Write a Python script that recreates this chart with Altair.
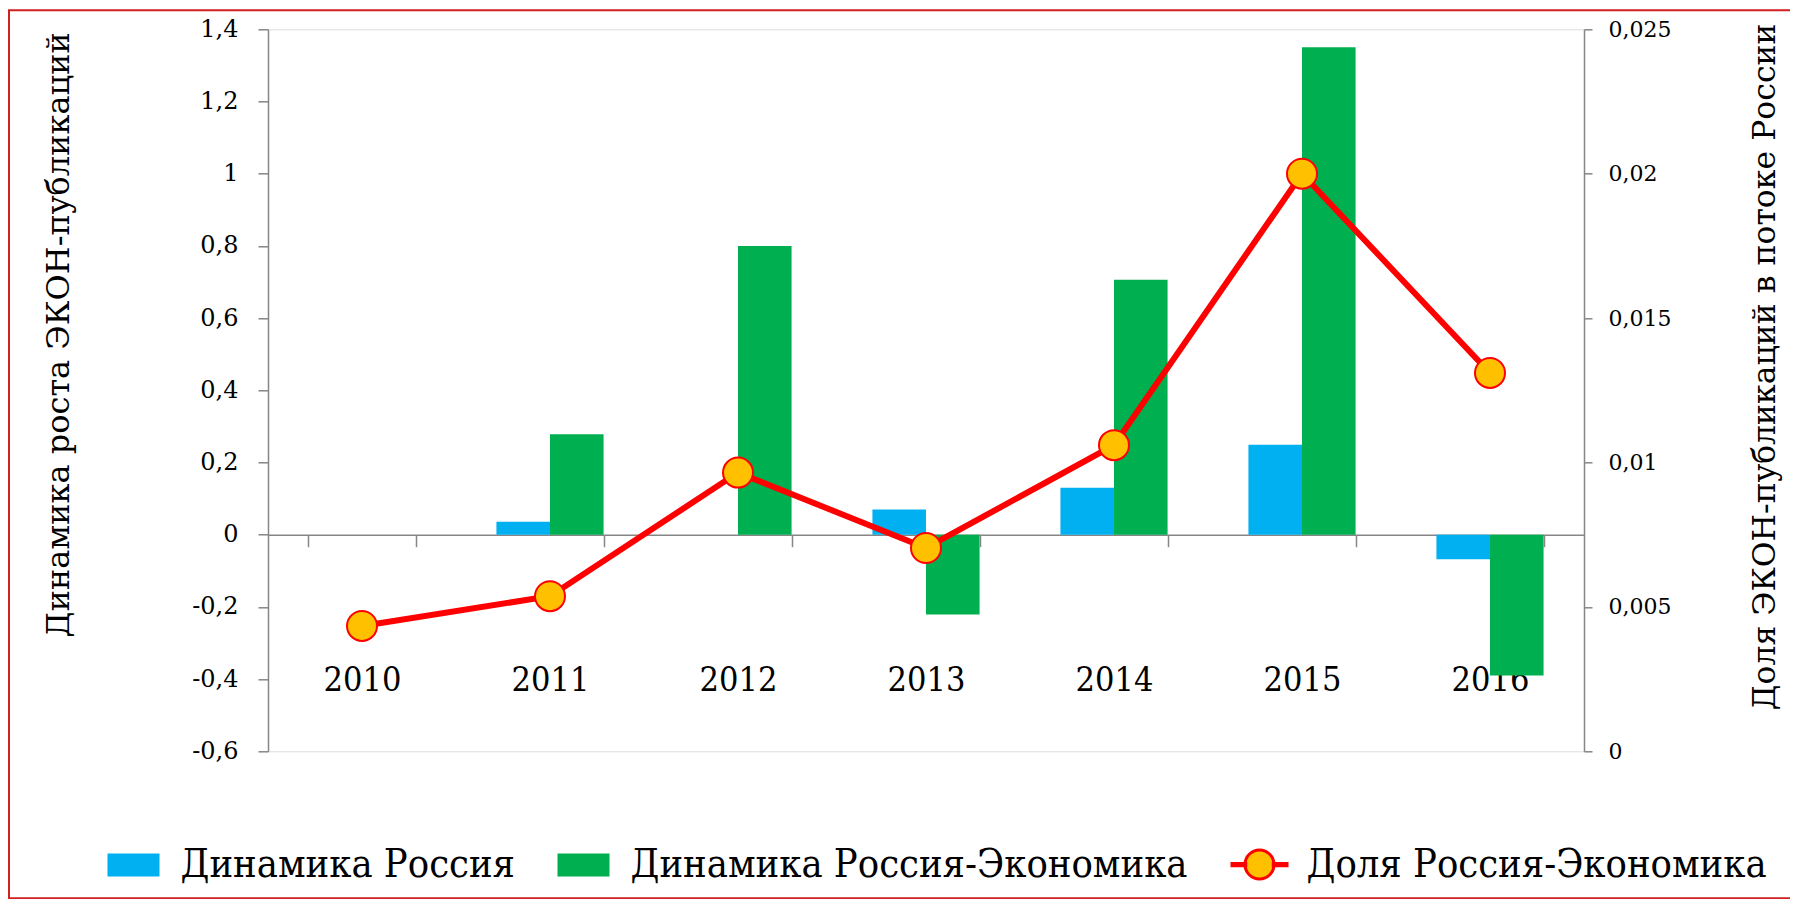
import altair as alt
import pandas as pd

# ---------------- data ----------------
years = ["2010", "2011", "2012", "2013", "2014", "2015", "2016"]
dyn_russia = [None, 0.036, 0.0, 0.070, 0.130, 0.249, -0.068]
dyn_russia_econ = [None, 0.278, 0.800, -0.221, 0.706, 1.350, -0.390]
share_russia_econ = [0.00434, 0.00537, 0.00965, 0.00704, 0.0106, 0.0200, 0.0131]

series_names = ["Динамика Россия", "Динамика Россия-Экономика", "Доля Россия-Экономика"]
left_ticks = [-0.6, -0.4, -0.2, 0, 0.2, 0.4, 0.6, 0.8, 1, 1.2, 1.4]
right_ticks = [0, 0.005, 0.01, 0.015, 0.02, 0.025]
left_title = "Динамика роста ЭКОН-публикаций"
right_title = "Доля ЭКОН-публикаций в потоке России"

# ---------------- styles ----------------
FONT_C = "DejaVu Serif Condensed, DejaVu Serif"
FONT_N = "DejaVu Serif"
BLUE, GREEN, GOLD, RED = "#00B0F0", "#00B050", "#FFC000", "#FF0000"
AXIS_GREY = "#868686"
W, H = 1316, 722

rows = []
for y, a, b in zip(years, dyn_russia, dyn_russia_econ):
    if a is not None:
        rows.append({"year": y, "series": series_names[0], "value": a})
    if b is not None:
        rows.append({"year": y, "series": series_names[1], "value": b})
bar_df = pd.DataFrame(rows)
line_df = pd.DataFrame({"year": years, "share": share_russia_econ})
legend_df = pd.DataFrame({"series": series_names, "year": [years[0]] * 3,
                          "share": [None, None, None]})

rect_path = "M-0.891,-0.364H0.891V0.364H-0.891Z"
line_path = ("M-1,-0.04H-0.5V0.04H-1Z M0.5,-0.04H1V0.04H0.5Z "
             "M0.527,0A0.527,0.527 0 1,1 -0.527,0A0.527,0.527 0 1,1 0.527,0Z")

leg = alt.Legend(title=None, orient="none", legendX=-163.5, legendY=806,
                 direction="horizontal", labelFont=FONT_C, labelFontSize=39.5,
                 labelColor="black", symbolSize=3025, symbolStrokeWidth=3,
                 labelOffset=18, columnPadding=37, padding=0, labelLimit=1000)

fill_scale = alt.Scale(domain=series_names, range=[BLUE, GREEN, GOLD])
stroke_scale = alt.Scale(domain=series_names, range=[BLUE, GREEN, RED])
shape_scale = alt.Scale(domain=series_names, range=[rect_path, rect_path, line_path])

x_enc = alt.X("year:N", sort=years,
              scale=alt.Scale(domain=years, paddingInner=0.43, paddingOuter=0.215),
              axis=alt.Axis(title=None, orient="bottom", offset=-(H * 0.3),
                            domainColor=AXIS_GREY, domainWidth=1.5,
                            tickColor=AXIS_GREY, tickWidth=1.5, tickSize=12,
                            tickBand="extent", labelFont=FONT_C, labelFontSize=34,
                            labelColor="black", labelPadding=134,
                            labelBaseline="middle", labelAngle=0))

bars = alt.Chart(bar_df).mark_bar().encode(
    x=x_enc,
    xOffset=alt.XOffset("series:N", sort=series_names[:2],
                        scale=alt.Scale(domain=series_names[:2], paddingInner=0, paddingOuter=0)),
    y=alt.Y("value:Q",
            scale=alt.Scale(domain=[-0.6, 1.4], nice=False, zero=False),
            axis=alt.Axis(values=left_ticks, grid=False,
                          labelExpr="replace(toString(round(datum.value*10)/10), '.', ',')",
                          domainColor=AXIS_GREY, domainWidth=1.5,
                          tickColor=AXIS_GREY, tickWidth=1.5, tickSize=10,
                          labelFont=FONT_N, labelFontSize=24, labelColor="black",
                          labelPadding=20,
                          title=left_title, titleFont=FONT_N, titleFontSize=32,
                          titleFontWeight="normal", titleColor="black",
                          titleAngle=270, titleX=-209.5, titleY=305,
                          titleAlign="center", titleBaseline="middle")),
    fill=alt.Fill("series:N", scale=fill_scale, legend=leg),
)

y_right = alt.Y("share:Q",
                scale=alt.Scale(domain=[0, 0.025], nice=False, zero=False),
                axis=alt.Axis(orient="right", values=right_ticks, grid=False,
                              labelExpr="replace(toString(round(datum.value*1000)/1000), '.', ',')",
                              domainColor=AXIS_GREY, domainWidth=1.5,
                              tickColor=AXIS_GREY, tickWidth=1.5, tickSize=8,
                              labelFont=FONT_N, labelFontSize=22, labelColor="black",
                              labelPadding=16,
                              title=right_title, titleFont=FONT_N, titleFontSize=31.5,
                              titleFontWeight="normal", titleColor="black",
                              titleAngle=270, titleX=182, titleY=337,
                              titleAlign="center", titleBaseline="middle"))

line = alt.Chart(line_df).mark_line(color=RED, strokeWidth=6).encode(
    x=alt.X("year:N", sort=years), y=y_right)

points = alt.Chart(line_df).mark_point(
    filled=True, fill=GOLD, stroke=RED, strokeWidth=2, size=900,
    opacity=1, shape="circle").encode(
    x=alt.X("year:N", sort=years), y=y_right)

legend_layer = alt.Chart(legend_df).mark_point(filled=True, strokeWidth=3, opacity=1).encode(
    x=alt.X("year:N", sort=years), y=y_right,
    fill=alt.Fill("series:N", scale=fill_scale, legend=leg),
    stroke=alt.Stroke("series:N", scale=stroke_scale, legend=leg),
    shape=alt.Shape("series:N", scale=shape_scale, legend=leg),
)

border = alt.Chart(alt.Data(values=[{"b": 1}])).mark_rect(
    fillOpacity=0, stroke="#D02020", strokeWidth=2).encode(
    x=alt.value(-259), x2=alt.value(1524), y=alt.value(-19), y2=alt.value(869))

right_layer = alt.layer(line, points, legend_layer)

chart = alt.layer(bars, right_layer, border).resolve_scale(y="independent").properties(
    width=W, height=H,
    padding={"left": 260, "top": 21.3, "right": 206, "bottom": 148},
    autosize=alt.AutoSizeParams(type="none"),
).configure_view(stroke=None).configure(background="white")

chart.save("out.html", embed_options={"renderer": "svg", "actions": False})
